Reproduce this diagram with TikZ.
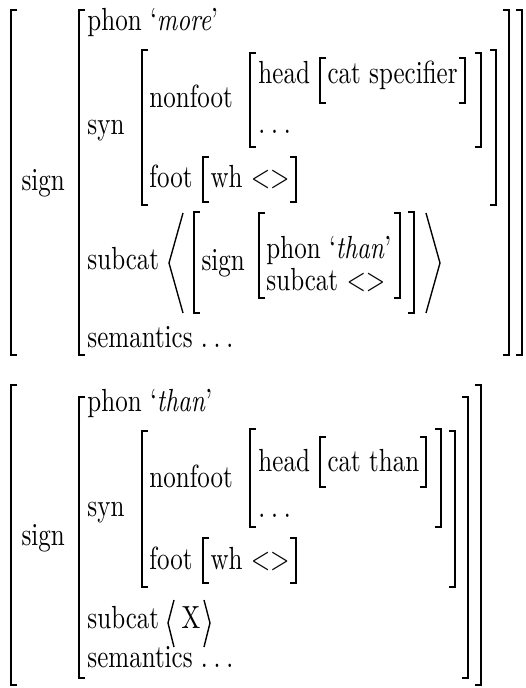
\documentclass[tikz,border=0pt]{standalone}
\usepackage{graphicx}
\newcommand{\T}[1]{\scalebox{1.0}[1.28]{#1}}
\newcommand{\dd}{.\kern2.3pt.\kern2.3pt.}
\newcommand{\LB}[3]{\draw[brk] (#1+6,#2) -- (#1,#2) -- (#1,#3) -- (#1+6,#3);}
\newcommand{\RB}[3]{\draw[brk] (#1-6,#2) -- (#1,#2) -- (#1,#3) -- (#1-6,#3);}
\begin{document}
\begin{tikzpicture}[x=0.4pt,y=-0.4pt]
\tikzset{t/.style={inner sep=0pt, anchor=base west},
         brk/.style={line width=0.55pt, line join=miter}}
\useasboundingbox (0,0) rectangle (526,688);
% ---------------- top AVM ----------------
\LB{11}{10}{355} \RB{522}{10}{355}
\node[t] (s1) at (21,190) {\T{sign}};
\LB{79}{10}{355} \RB{509}{10}{355}
\node[t] (p1) at (87,30) {\T{phon `\textit{more}'}};
\node[t] (y1) at (87,134) {\T{syn}};
\LB{142}{50}{205} \RB{496}{50}{205}
\node[t] (n1) at (149,107) {\T{nonfoot}};
\LB{250}{53}{147} \RB{481}{53}{147}
\node[t] (h1) at (258,83) {\T{head}};
\LB{320}{58}{103} \RB{465}{58}{103}
\node[t] (c1) at (327,83) {\T{cat specifier}};
\node[t] (d1) at (258,133) {\T{\dd}};
\node[t] (f1) at (149,187) {\T{foot}};
\LB{203}{157}{202} \RB{296}{157}{202}
\node[t] (w1) at (210,187) {\T{wh <>}};
\node[t] (u1) at (87,269) {\T{subcat}};
\draw[brk] (183,213) -- (169,263) -- (183,313);
\LB{194}{212}{313} \RB{414}{212}{313}
\node[t] (g1) at (201,270) {\T{sign}};
\LB{259}{213}{298} \RB{400}{213}{298}
\node[t] (q1) at (266,258) {\T{phon `\textit{than}'}};
\node[t] (v1) at (266,290) {\T{subcat <>}};
\draw[brk] (426,213) -- (440,263) -- (426,313);
\node[t] (m1) at (87,347) {\T{semantics \dd}};
% ---------------- bottom AVM ----------------
\LB{11}{385}{685} \RB{481}{385}{685}
\node[t] (s2) at (21,545) {\T{sign}};
\LB{79}{397}{678} \RB{468}{397}{678}
\node[t] (p2) at (87,411) {\T{phon `\textit{than}'}};
\node[t] (y2) at (87,516) {\T{syn}};
\LB{142}{431}{587} \RB{455}{431}{587}
\node[t] (n2) at (149,487) {\T{nonfoot}};
\LB{250}{429}{527} \RB{441}{429}{527}
\node[t] (h2) at (258,471) {\T{head}};
\LB{320}{437}{487} \RB{426}{437}{487}
\node[t] (c2) at (327,471) {\T{cat than}};
\node[t] (d2) at (258,517) {\T{\dd}};
\node[t] (f2) at (149,569) {\T{foot}};
\LB{203}{538}{583} \RB{296}{538}{583}
\node[t] (w2) at (210,569) {\T{wh <>}};
\node[t] (u2) at (87,628) {\T{subcat}};
\draw[brk] (174,600) -- (168,623) -- (174,647);
\node[t] (x2) at (181,628) {\T{X}};
\draw[brk] (204,600) -- (210,623) -- (204,647);
\node[t] (m2) at (87,667) {\T{semantics \dd}};
\end{tikzpicture}
\end{document}
